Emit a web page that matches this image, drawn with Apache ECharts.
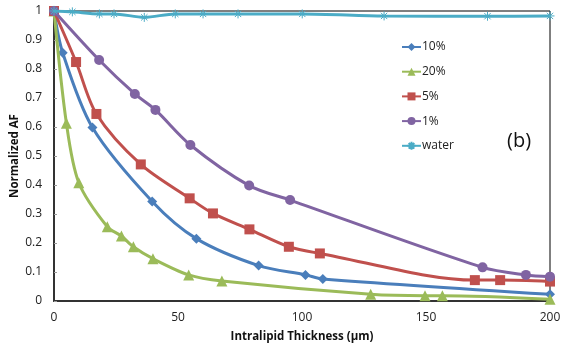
<!DOCTYPE html>
<html>
<head>
<meta charset="utf-8">
<script src="https://cdn.jsdelivr.net/npm/echarts@6/dist/echarts.min.js"></script>
<style>
  html, body { margin: 0; padding: 0; background: #fff; }
  #chart { width: 565px; height: 346px; }
</style>
</head>
<body>
<div id="chart"></div>
<script>
// Normalized AF versus intralipid thickness (µm) for each concentration
const xTicks = [0, 50, 100, 150, 200];
const yTicks = [0, 0.1, 0.2, 0.3, 0.4, 0.5, 0.6, 0.7, 0.8, 0.9, 1];

const seriesNames = ['10%', '20%', '5%', '1%', 'water'];

const thick10 = [0, 3.5, 15.5, 39.6, 57.4, 82.5, 101.4, 108.4, 200];
const af10    = [1, 0.856, 0.598, 0.343, 0.215, 0.122, 0.09, 0.076, 0.023];

const thick20 = [0, 5, 10, 21.5, 27.2, 32, 39.9, 54.3, 67.7, 127.7, 149.6, 156.6, 200];
const af20    = [1, 0.613, 0.408, 0.256, 0.224, 0.187, 0.146, 0.09, 0.069, 0.023, 0.018, 0.018, 0.006];

const thick5 = [0, 8.9, 17.1, 35, 54.7, 64.1, 78.8, 94.7, 107.2, 169.7, 179.9, 200];
const af5    = [1, 0.824, 0.645, 0.471, 0.354, 0.302, 0.247, 0.187, 0.164, 0.072, 0.072, 0.067];

const thick1 = [0, 18.2, 32.6, 40.9, 55, 78.7, 95.2, 172.8, 190.3, 200];
const af1    = [1, 0.831, 0.714, 0.659, 0.538, 0.398, 0.348, 0.116, 0.09, 0.084];

const thickW = [0, 7.4, 18.3, 24.2, 36.4, 48.9, 60.1, 74.2, 100.1, 133.1, 174.8, 200];
const afW    = [1, 0.997, 0.99, 0.99, 0.978, 0.99, 0.99, 0.99, 0.99, 0.983, 0.982, 0.983];

const colors = ['#4A7EBB', '#9BBB59', '#C0504D', '#8064A2', '#4BACC6'];
const symbols = ['diamond', 'triangle', 'rect', 'circle', 'path://M0,-5L0,5M-5,0L5,0M-3.5,-3.5L3.5,3.5M-3.5,3.5L3.5,-3.5'];
const symbolSizes = [10, 11, 10, 10, 9];
const xs = [thick10, thick20, thick5, thick1, thickW];
const ys = [af10, af20, af5, af1, afW];

const pairs = (a, b) => a.map((v, i) => [v, b[i]]);

const series = seriesNames.map((name, i) => ({
  name: name,
  type: 'line',
  smooth: 0.3,
  data: pairs(xs[i], ys[i]),
  symbol: symbols[i],
  symbolSize: symbolSizes[i],
  showAllSymbol: true,
  lineStyle: { color: colors[i], width: 3 },
  itemStyle: i === 4 ? { color: colors[i], borderColor: colors[i], borderWidth: 1 } : { color: colors[i] },
  z: 2 + i
}));

const chart = echarts.init(document.getElementById('chart'), null, { renderer: 'canvas' });
chart.setOption({
  animation: false,
  backgroundColor: '#ffffff',
  color: colors,
  grid: {
    left: 54, right: 15, top: 11, bottom: 45,
    outerBoundsMode: 'none',
    show: true, borderColor: '#000', borderWidth: 1, backgroundColor: 'transparent'
  },
  legend: {
    data: seriesNames,
    orient: 'vertical',
    left: 396,
    top: 36,
    itemWidth: 19,
    itemHeight: 10,
    itemGap: 12.7,
    textStyle: { fontFamily: 'Open Sans', fontSize: 12, color: '#222', padding: [0, 0, 0, -4] }
  },
  graphic: [{
    type: 'text',
    left: 507,
    top: 131,
    style: { text: '(b)', font: '20px "Open Sans"', fill: '#111' }
  }],
  xAxis: {
    type: 'value',
    min: xTicks[0],
    max: xTicks[xTicks.length - 1],
    interval: 50,
    name: 'Intralipid Thickness (µm)',
    nameLocation: 'middle',
    nameGap: 30,
    nameMoveOverlap: false,
    nameTextStyle: { fontFamily: 'Open Sans', fontWeight: 'bold', fontSize: 11.5, color: '#111' },
    axisLine: { show: true, onZero: false, lineStyle: { color: '#333', width: 2 } },
    axisTick: { show: false },
    splitLine: { show: false },
    axisLabel: { fontFamily: 'Open Sans', fontSize: 12, color: '#222', margin: 11 }
  },
  yAxis: {
    type: 'value',
    min: yTicks[0],
    max: yTicks[yTicks.length - 1],
    interval: 0.1,
    name: 'Normalized AF',
    nameLocation: 'middle',
    nameGap: 33,
    nameMoveOverlap: false,
    nameTextStyle: { fontFamily: 'Open Sans', fontWeight: 'bold', fontSize: 11.5, color: '#111' },
    axisLine: { show: true, lineStyle: { color: '#333', width: 2 } },
    axisTick: { show: true, inside: true, length: 3, lineStyle: { color: '#999' } },
    splitLine: { show: false },
    axisLabel: { fontFamily: 'Open Sans', fontSize: 12, color: '#222', margin: 12,
      formatter: v => String(Math.round(v * 10) / 10) }
  },
  series: series
});
</script>
</body>
</html>
